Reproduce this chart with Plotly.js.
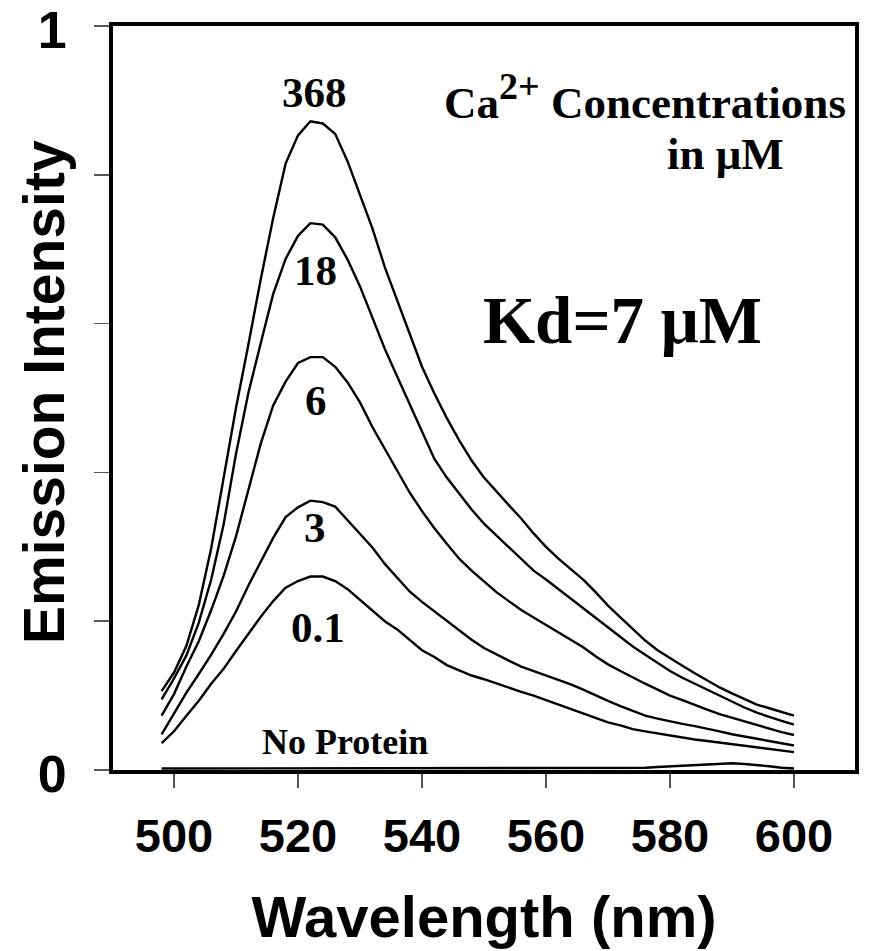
<!DOCTYPE html>
<html>
<head>
<meta charset="utf-8">
<script src="https://cdn.plot.ly/plotly-3.0.1.min.js"></script>
<style>
  html, body { margin: 0; padding: 0; background: #ffffff; }
  #chart { width: 871px; height: 951px; }
</style>
</head>
<body>
<div id="chart"></div>
<script>
// Wavelength samples (nm)
const wavelength = [498,500,502,504,506,508,510,512,514,516,518,520,522,524,526,528,530,532,534,536,538,540,542,544,546,548,550,552,554,556,558,560,562,564,566,568,570,572,574,576,578,580,582,584,586,588,590,592,594,596,598,600];

// Emission intensity for each Ca2+ concentration (uM)
const ca368 = [0.106,0.131,0.167,0.222,0.298,0.390,0.487,0.572,0.660,0.742,0.815,0.853,0.872,0.869,0.855,0.818,0.772,0.728,0.676,0.632,0.586,0.542,0.506,0.473,0.443,0.416,0.393,0.374,0.356,0.338,0.318,0.300,0.284,0.270,0.256,0.239,0.221,0.205,0.189,0.174,0.161,0.150,0.140,0.130,0.120,0.111,0.103,0.096,0.088,0.083,0.078,0.073];
const ca18 = [0.095,0.123,0.154,0.198,0.256,0.330,0.425,0.507,0.574,0.640,0.687,0.718,0.735,0.733,0.716,0.686,0.650,0.607,0.566,0.529,0.492,0.455,0.418,0.393,0.372,0.350,0.331,0.315,0.299,0.283,0.268,0.256,0.243,0.230,0.217,0.204,0.191,0.178,0.166,0.155,0.144,0.133,0.124,0.116,0.108,0.099,0.091,0.084,0.077,0.071,0.066,0.061];
const ca6 = [0.073,0.102,0.139,0.173,0.215,0.261,0.314,0.378,0.439,0.490,0.522,0.547,0.555,0.555,0.542,0.521,0.494,0.461,0.431,0.402,0.373,0.348,0.325,0.304,0.284,0.268,0.253,0.239,0.227,0.215,0.205,0.195,0.185,0.176,0.165,0.153,0.142,0.133,0.124,0.116,0.108,0.100,0.094,0.087,0.081,0.075,0.070,0.065,0.061,0.056,0.051,0.047];
const ca3 = [0.048,0.076,0.104,0.129,0.155,0.183,0.213,0.248,0.279,0.312,0.340,0.353,0.362,0.360,0.354,0.336,0.318,0.299,0.277,0.258,0.240,0.226,0.213,0.201,0.187,0.175,0.164,0.155,0.147,0.139,0.133,0.128,0.122,0.115,0.108,0.100,0.093,0.086,0.079,0.073,0.069,0.065,0.062,0.059,0.056,0.052,0.048,0.045,0.042,0.039,0.036,0.033];
const ca01 = [0.036,0.052,0.073,0.093,0.116,0.136,0.160,0.183,0.206,0.227,0.245,0.254,0.260,0.260,0.254,0.243,0.229,0.215,0.200,0.189,0.175,0.161,0.152,0.141,0.134,0.127,0.122,0.116,0.110,0.105,0.100,0.094,0.089,0.083,0.076,0.070,0.064,0.060,0.055,0.052,0.049,0.046,0.044,0.041,0.039,0.037,0.035,0.033,0.031,0.029,0.027,0.024];
const noProtein = [0.002,0.002,0.002,0.002,0.002,0.002,0.002,0.002,0.002,0.002,0.002,0.002,0.002,0.002,0.002,0.002,0.002,0.002,0.002,0.002,0.002,0.002,0.002,0.002,0.002,0.002,0.002,0.002,0.002,0.002,0.002,0.002,0.002,0.002,0.002,0.002,0.002,0.002,0.002,0.003,0.004,0.005,0.006,0.007,0.008,0.009,0.009,0.008,0.007,0.005,0.003,0.002];

const seriesNames = ['368','18','6','3','0.1','No Protein'];
const seriesValues = [ca368, ca18, ca6, ca3, ca01, noProtein];

// Axis ticks
const xTickVals = [500,520,540,560,580,600];
const yTickVals = [0,1];
const yTickText = ['0','1'];
const yMinorStep = 0.2;

const sans = 'Liberation Sans, Arial, Helvetica, sans-serif';
const serif = 'Liberation Serif, Times New Roman, serif';

const traces = seriesValues.map((vals, i) => ({
  x: wavelength,
  y: vals,
  name: seriesNames[i],
  type: 'scatter',
  mode: 'lines',
  line: { color: '#000000', width: 2.4 },
  showlegend: false,
  hoverinfo: 'skip'
}));

const lbl = (text, x, y, size, extra) => Object.assign({
  text: text, x: x, y: y, xref: 'x', yref: 'y',
  showarrow: false, xanchor: 'center', yanchor: 'middle',
  font: { family: serif, size: size, color: '#000000', weight: 'bold' }
}, extra || {});

const layout = {
  width: 871,
  height: 951,
  margin: { l: 113, r: 16, t: 26, b: 181, pad: 0 },
  paper_bgcolor: '#ffffff',
  plot_bgcolor: '#ffffff',
  xaxis: {
    range: [490.16, 609.84],
    tickmode: 'array',
    tickvals: xTickVals,
    ticks: 'outside',
    ticklen: 14,
    tickwidth: 1.5,
    tickcolor: '#555555',
    showline: true,
    linewidth: 4,
    linecolor: '#000000',
    mirror: true,
    showgrid: false,
    zeroline: false,
    tickfont: { family: sans, size: 47, color: '#000000', weight: 'bold' },
    ticklabelstandoff: 8,
    title: { text: 'Wavelength (nm)', font: { family: sans, size: 58, color: '#000000', weight: 'bold' }, standoff: 36 }
  },
  yaxis: {
    range: [0, 1],
    tickmode: 'array',
    tickvals: yTickVals,
    ticktext: yTickText,
    ticks: 'outside',
    ticklen: 15,
    tickwidth: 1.5,
    tickcolor: '#555555',
    minor: { tick0: 0, dtick: yMinorStep, ticks: 'outside', ticklen: 15, tickwidth: 1.5, tickcolor: '#555555', showgrid: false },
    showline: true,
    linewidth: 4,
    linecolor: '#000000',
    mirror: true,
    showgrid: false,
    zeroline: false,
    tickfont: { family: sans, size: 52, color: '#000000', weight: 'bold' },
    ticklabelstandoff: 17,
    ticklabelshift: 4,
    ticklabeloverflow: 'allow'
  },
  annotations: [
    {
      text: 'Emission Intensity', xref: 'paper', yref: 'paper',
      x: -0.093, y: 0.508, textangle: -90, showarrow: false,
      xanchor: 'center', yanchor: 'middle',
      font: { family: sans, size: 57, color: '#000000', weight: 'bold' }
    },
    lbl('368', 522.7, 0.910, 43),
    lbl('18', 522.9, 0.672, 43),
    lbl('6', 522.9, 0.497, 43),
    lbl('3', 522.7, 0.326, 43),
    lbl('0.1', 523.2, 0.192, 43),
    lbl('No Protein', 527.6, 0.0375, 36),
    lbl('Ca<sup><span style="font-size:38px">2+</span></sup> Concentrations', 608.7, 0.905, 45, { xanchor: 'right' }),
    lbl('in μM', 588.9, 0.828, 45),
    lbl('Kd=7 μM', 572.4, 0.605, 67)
  ]
};

Plotly.newPlot('chart', traces, layout, { staticPlot: true, displayModeBar: false });
</script>
</body>
</html>
